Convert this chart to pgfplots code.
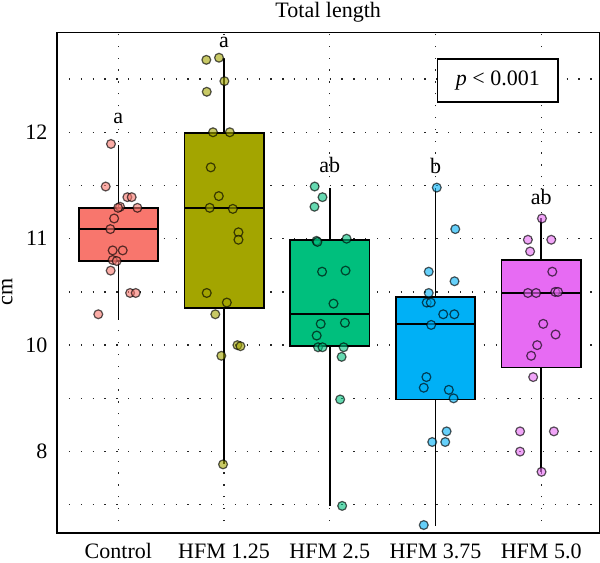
\documentclass[border=0pt]{standalone}
\usepackage{fontspec}
\setmainfont{Liberation Serif}
\usepackage{pgfplots}
\pgfplotsset{compat=1.18}
\usepgfplotslibrary{statistics}

\definecolor{cA}{HTML}{F8766D}
\definecolor{cB}{HTML}{A3A500}
\definecolor{cC}{HTML}{00BF7D}
\definecolor{cD}{HTML}{00B0F6}
\definecolor{cE}{HTML}{E76BF3}

\pgfplotstableread{
x y
-0.070 11.89
-0.120 11.49
0.085 11.39
0.126 11.39
0.016 11.30
-0.003 11.29
0.180 11.29
-0.040 11.19
-0.076 11.09
-0.054 10.89
0.041 10.89
-0.054 10.80
-0.016 10.79
-0.073 10.70
0.111 10.49
0.164 10.49
-0.190 10.29
}\ptsA

\pgfplotstableread{
x y
0.832 12.68
0.952 12.70
1.003 12.48
0.836 12.38
0.895 12.00
1.054 12.00
0.874 11.67
0.950 11.40
0.864 11.29
1.083 11.28
1.136 11.06
1.136 10.99
0.836 10.49
1.026 10.40
0.917 10.29
1.126 10.00
1.155 9.99
0.974 9.90
0.990 8.88
}\ptsB

\pgfplotstableread{
x y
1.857 11.49
1.931 11.39
1.855 11.30
1.874 10.98
1.883 10.97
2.159 11.00
1.927 10.69
2.149 10.70
2.035 10.39
1.914 10.20
2.143 10.21
1.876 10.09
1.889 9.98
1.931 9.98
2.131 9.98
2.112 9.89
2.098 9.49
2.117 8.49
}\ptsC

\pgfplotstableread{
x y
3.012 11.48
3.187 11.09
2.936 10.69
3.180 10.60
2.936 10.49
2.917 10.40
2.955 10.40
3.073 10.29
3.178 10.29
2.959 10.19
2.914 9.70
2.889 9.60
3.126 9.58
3.171 9.50
3.105 9.19
2.969 9.09
3.092 9.09
2.889 8.31
}\ptsD

\pgfplotstableread{
x y
4.007 11.19
3.874 10.99
4.095 10.99
3.895 10.88
4.105 10.69
3.874 10.49
3.952 10.49
4.133 10.50
4.159 10.50
4.019 10.20
4.136 10.10
3.962 10.00
3.905 9.90
3.924 9.70
3.800 9.19
4.120 9.19
3.800 9.00
4.003 8.81
}\ptsE

\begin{document}
\begin{tikzpicture}
\begin{axis}[
  scale only axis, width=540bp, height=498bp,
  xmin=-0.58, xmax=4.55, ymin=8.236, ymax=12.934,
  xtick={0,1,2,3,4},
  xticklabels={Control, HFM 1.25, HFM 2.5, HFM 3.75, HFM 5.0},
  ytick={9,10,11,12}, yticklabels={\mbox{8},\mbox{10},\mbox{11},\mbox{12}},
  minor ytick={8.5,9.5,10.5,11.5,12.5},
  major tick length=0pt, minor tick length=0pt,
  xmajorgrids, ymajorgrids, yminorgrids,
  major grid style={black!85, line width=1.3bp, dash pattern=on 1.3bp off 10.5bp},
  minor grid style={black!85, line width=1.3bp, dash pattern=on 1.3bp off 10.5bp},
  axis line style={line width=1.3bp},
  tick label style={font=\fontsize{22}{26}\selectfont},
  xticklabel style={anchor=base, inner xsep=0pt, inner ysep=4bp, yshift=-25bp},
  yticklabel style={inner sep=0pt, xshift=-9.5bp},
  title={Total length},
  title style={at={(rel axis cs:0.5,1)}, anchor=base, inner sep=2bp, yshift=9.5bp, font=\fontsize{22}{26}\selectfont},
  ylabel={cm},
  every axis y label/.style={at={(axis description cs:-0.1056,0.482)}, rotate=90, anchor=north, inner sep=2bp, font=\fontsize{22}{26}\selectfont},
  boxplot/draw direction=y,
  boxplot/every median/.style={line width=2.4bp},
  clip=false,
]
\addplot[boxplot prepared={draw position=0, lower whisker=10.24, lower quartile=10.79, median=11.09, upper quartile=11.29, upper whisker=11.88, box extend=0.75, whisker extend=0}, fill=cA, draw=black, line width=1.6bp] coordinates {};
\addplot[boxplot prepared={draw position=1, lower whisker=8.88, lower quartile=10.35, median=11.29, upper quartile=11.99, upper whisker=12.69, box extend=0.75, whisker extend=0}, fill=cB, draw=black, line width=1.6bp] coordinates {};
\addplot[boxplot prepared={draw position=2, lower whisker=8.49, lower quartile=9.99, median=10.29, upper quartile=10.99, upper whisker=11.48, box extend=0.75, whisker extend=0}, fill=cC, draw=black, line width=1.6bp] coordinates {};
\addplot[boxplot prepared={draw position=3, lower whisker=8.30, lower quartile=9.49, median=10.20, upper quartile=10.45, upper whisker=11.48, box extend=0.75, whisker extend=0}, fill=cD, draw=black, line width=1.6bp] coordinates {};
\addplot[boxplot prepared={draw position=4, lower whisker=8.81, lower quartile=9.79, median=10.49, upper quartile=10.80, upper whisker=11.19, box extend=0.75, whisker extend=0}, fill=cE, draw=black, line width=1.6bp] coordinates {};

\addplot[only marks, mark=*, mark size=4.4bp, mark options={fill=cA, fill opacity=0.6, draw=black, draw opacity=0.65, line width=1.2bp}] table {\ptsA};
\addplot[only marks, mark=*, mark size=4.4bp, mark options={fill=cB, fill opacity=0.6, draw=black, draw opacity=0.65, line width=1.2bp}] table {\ptsB};
\addplot[only marks, mark=*, mark size=4.4bp, mark options={fill=cC, fill opacity=0.6, draw=black, draw opacity=0.65, line width=1.2bp}] table {\ptsC};
\addplot[only marks, mark=*, mark size=4.4bp, mark options={fill=cD, fill opacity=0.6, draw=black, draw opacity=0.65, line width=1.2bp}] table {\ptsD};
\addplot[only marks, mark=*, mark size=4.4bp, mark options={fill=cE, fill opacity=0.6, draw=black, draw opacity=0.65, line width=1.2bp}] table {\ptsE};

\node[anchor=base, font=\fontsize{22}{26}\selectfont] at (axis cs:0,12.085) {a};
\node[anchor=base, font=\fontsize{22}{26}\selectfont] at (axis cs:1,12.80) {a};
\node[anchor=base, font=\fontsize{22}{26}\selectfont] at (axis cs:2,11.62) {ab};
\node[anchor=base, font=\fontsize{22}{26}\selectfont] at (axis cs:3,11.61) {b};
\node[anchor=base, font=\fontsize{22}{26}\selectfont] at (axis cs:4,11.32) {ab};
\node[draw=black, line width=1.3bp, fill=white, minimum width=120bp, minimum height=43bp, inner sep=0pt, font=\fontsize{22}{26}\selectfont] at (axis cs:3.59,12.486) {\textit{p} < 0.001};
\end{axis}
\end{tikzpicture}
\end{document}
